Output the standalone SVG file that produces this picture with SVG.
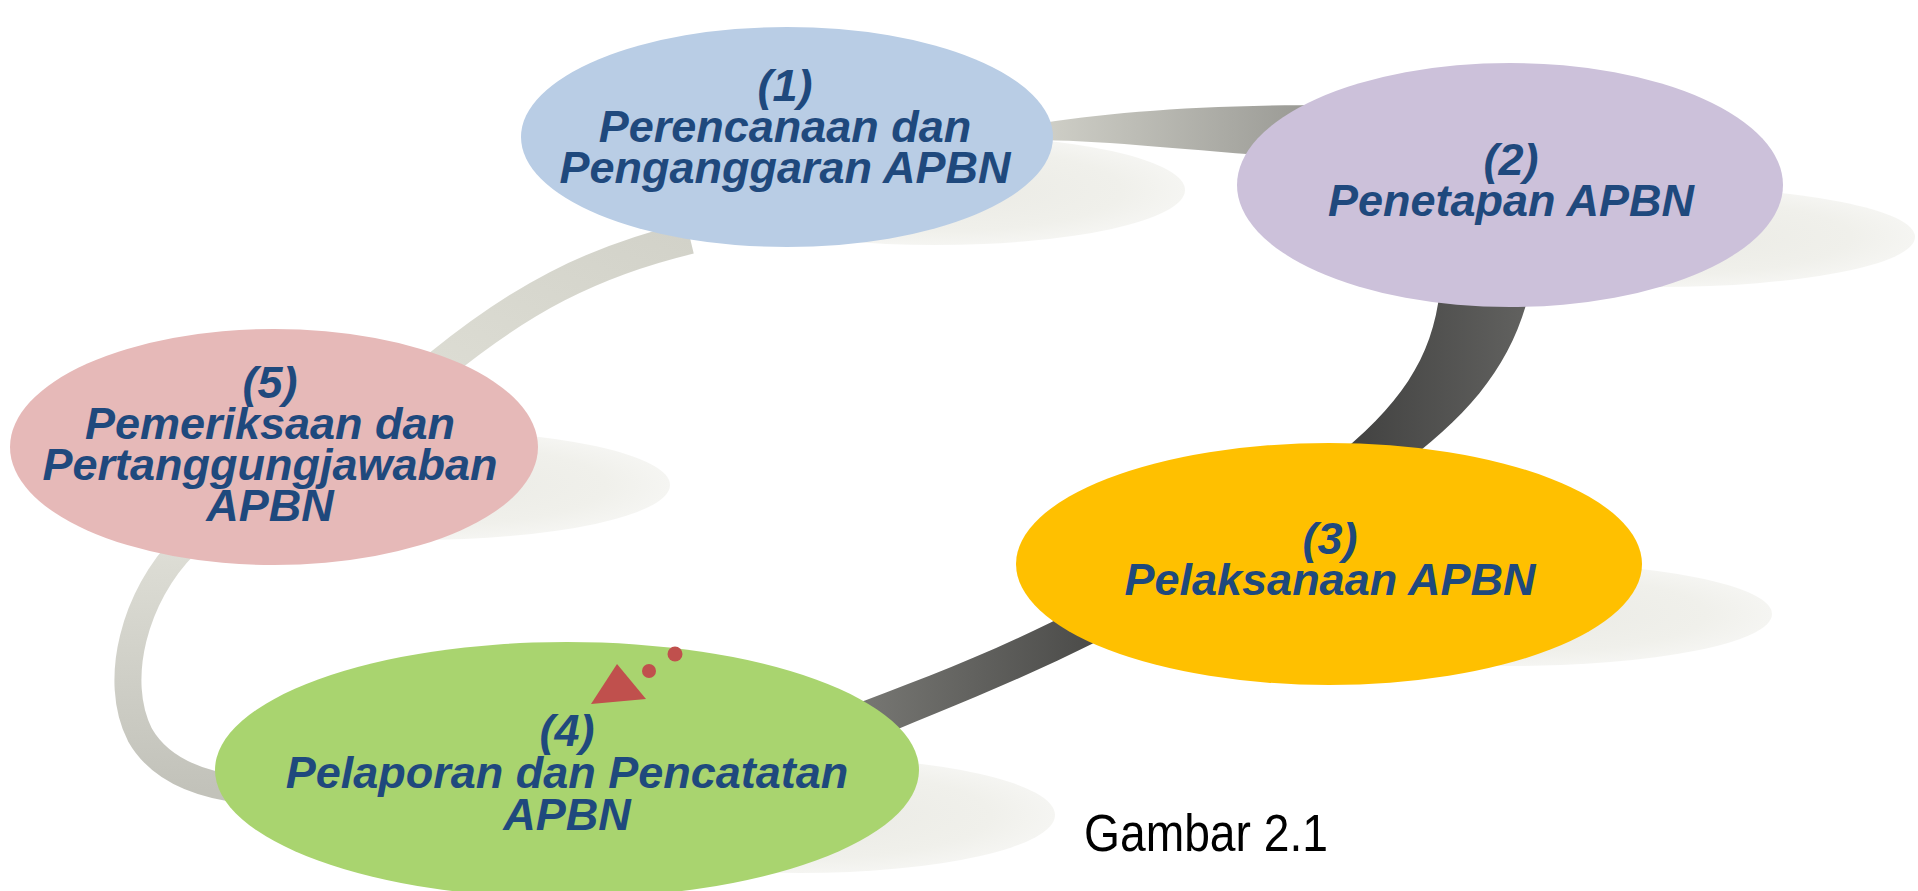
<svg xmlns="http://www.w3.org/2000/svg" width="1918" height="891" viewBox="0 0 1918 891">
<style>
.lbl{font-family:"Liberation Sans",Arial,sans-serif;font-weight:bold;font-style:italic;font-size:45px;fill:#1f497d;text-anchor:middle}
.cap{font-family:"Liberation Sans",Arial,sans-serif;font-size:51px;fill:#000}
.shadow{fill:url(#shg)}
</style>
<defs>
<radialGradient id="shg" cx="0.5" cy="0.5" r="0.5">
<stop offset="0" stop-color="#eaeae4"/>
<stop offset="0.75" stop-color="#f0f0eb"/>
<stop offset="1" stop-color="#f5f5f2"/>
</radialGradient>
<linearGradient id="g1" x1="0" y1="0" x2="1" y2="0">
<stop offset="0" stop-color="#d2d2ca"/>
<stop offset="1" stop-color="#959590"/>
</linearGradient>
<linearGradient id="g2" x1="0" y1="0" x2="1" y2="0">
<stop offset="0" stop-color="#3e3e3d"/>
<stop offset="1" stop-color="#626260"/>
</linearGradient>
<linearGradient id="g3" x1="0" y1="0" x2="1" y2="0">
<stop offset="0" stop-color="#7a7a76"/>
<stop offset="1" stop-color="#4a4a48"/>
</linearGradient>
<linearGradient id="g4" x1="0" y1="0" x2="0" y2="1">
<stop offset="0" stop-color="#deded6"/>
<stop offset="1" stop-color="#c2c2ba"/>
</linearGradient>
<linearGradient id="g5" x1="0" y1="1" x2="1" y2="0">
<stop offset="0" stop-color="#dcdcd3"/>
<stop offset="1" stop-color="#d2d2c9"/>
</linearGradient>
</defs>
<rect width="1918" height="891" fill="#ffffff"/>
<g id="shadows">
<ellipse class="shadow" cx="935" cy="190" rx="250" ry="55"/>
<ellipse class="shadow" cx="1660" cy="237" rx="255" ry="50"/>
<ellipse class="shadow" cx="1510" cy="614" rx="262" ry="52"/>
<ellipse class="shadow" cx="800" cy="815" rx="255" ry="58"/>
<ellipse class="shadow" cx="415" cy="485" rx="255" ry="55"/>
</g>
<g id="connectors">
<path d="M1030,125 C1110,112 1200,105 1330,105 L1330,160 C1200,152 1110,140 1030,140 Z" fill="url(#g1)"/>
<path d="M1440,290 C1432,360 1400,405 1330,462 L1395,470 C1470,415 1512,365 1530,290 Z" fill="url(#g2)"/>
<path d="M845,708 C920,680 1000,650 1085,605 L1100,640 C1010,685 930,715 860,745 Z" fill="url(#g3)"/>
<path d="M185,545 C135,595 112,680 140,735 C160,770 200,785 245,790" fill="none" stroke="url(#g4)" stroke-width="27"/>
<path d="M440,365 C520,300 590,262 690,238" fill="none" stroke="url(#g5)" stroke-width="32"/>
</g>
<g id="node1">
<ellipse cx="787" cy="137" rx="266" ry="110" fill="#b9cde5"/>
<text class="lbl" x="785" y="101">(1)</text>
<text class="lbl" x="785" y="142">Perencanaan dan</text>
<text class="lbl" x="785" y="183">Penganggaran APBN</text>
</g>
<g id="node2">
<ellipse cx="1510" cy="185" rx="273" ry="122" fill="#ccc1da"/>
<text class="lbl" x="1511" y="175">(2)</text>
<text class="lbl" x="1511" y="216">Penetapan APBN</text>
</g>
<g id="node3">
<ellipse cx="1329" cy="564" rx="313" ry="121" fill="#ffc000"/>
<text class="lbl" x="1330" y="554">(3)</text>
<text class="lbl" x="1330" y="595">Pelaksanaan APBN</text>
</g>
<g id="node4">
<ellipse cx="567" cy="770" rx="352" ry="128" fill="#a9d46f"/>
<polygon points="617,664 591,704 646,699" fill="#c0504d"/>
<circle cx="649" cy="671" r="7" fill="#c0504d"/>
<circle cx="675" cy="654" r="7.5" fill="#c0504d"/>
<text class="lbl" x="567" y="746">(4)</text>
<text class="lbl" x="567" y="788">Pelaporan dan Pencatatan</text>
<text class="lbl" x="567" y="830">APBN</text>
</g>
<g id="node5">
<ellipse cx="274" cy="447" rx="264" ry="118" fill="#e6b9b8"/>
<text class="lbl" x="270" y="398">(5)</text>
<text class="lbl" x="270" y="439">Pemeriksaan dan</text>
<text class="lbl" x="270" y="480">Pertanggungjawaban</text>
<text class="lbl" x="270" y="521">APBN</text>
</g>
<text class="cap" x="1084" y="851" textLength="244" lengthAdjust="spacingAndGlyphs">Gambar 2.1</text>
</svg>
